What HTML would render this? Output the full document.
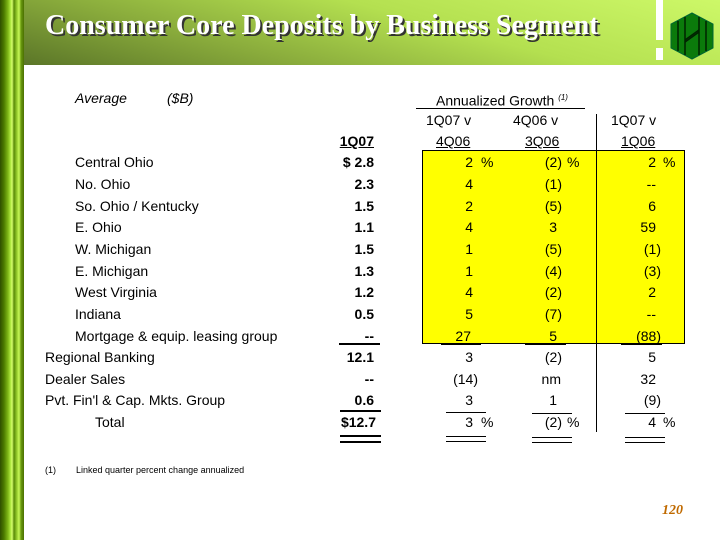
<!DOCTYPE html>
<html><head><meta charset="utf-8"><style>
body{margin:0;width:720px;height:540px;position:relative;overflow:hidden;background:#fff;font-family:"Liberation Sans",Arial,sans-serif;}
.l{position:absolute;font-size:14px;line-height:16px;white-space:nowrap;color:#000}
.r{position:absolute;font-size:14px;line-height:16px;white-space:nowrap;text-align:right;width:200px;color:#000}
.b{font-weight:bold}
.hl{position:absolute;background:#000}
</style></head><body>
<div style="position:absolute;left:0;top:0;width:24px;height:540px;background:linear-gradient(90deg,#2f4f00 0,#4c7a00 4px,#7fb818 8px,#b8f048 11px,#d8ff70 12px,#5a8a08 14px,#9ad030 17px,#c8f858 19px,#6a9a10 21px,#4a7000 24px)"></div>
<div style="position:absolute;left:24px;top:0;width:696px;height:65px;background:linear-gradient(15deg,#5b7628 0%,#8aac3c 30%,#b4e050 60%,#cdf868 100%)"></div>
<div style="position:absolute;left:45px;top:10px;font-family:'Liberation Serif',serif;font-weight:bold;font-size:28px;color:#fff;text-shadow:2px 2px 0 #333">Consumer Core Deposits by Business Segment</div>
<div style="position:absolute;left:656px;top:0;width:7px;height:40px;background:#fff"></div>
<div style="position:absolute;left:656px;top:48px;width:7px;height:12px;background:#fff"></div>
<svg style="position:absolute;left:670px;top:12px" width="46" height="48"><polygon points="22,1 43,12 43,36 22,47 1,36 1,12" fill="#0b7a0b" stroke="#063"/><g stroke="#020" stroke-width="1.5"><line x1="8" y1="9" x2="8" y2="39"/><line x1="15" y1="5" x2="15" y2="43"/><line x1="29" y1="5" x2="29" y2="43"/><line x1="36" y1="9" x2="36" y2="39"/><path d="M15 30 L29 20 M15 28 L29 18" /></g></svg>

<div class="l" style="left:75px;top:90px;font-style:italic">Average</div>
<div class="l" style="left:167px;top:90px;font-style:italic">($B)</div>
<div class="l" style="left:436px;top:90px">Annualized Growth <sup style="font-size:8px;font-style:italic">(1)</sup></div>
<div class="hl" style="left:416px;top:108px;width:169px;height:1px"></div>
<div class="l" style="left:426px;top:112px">1Q07 v</div>
<div class="l" style="left:513px;top:112px">4Q06 v</div>
<div class="l" style="left:611px;top:112px">1Q07 v</div>
<div class="r b" style="left:174px;top:133px;text-decoration:underline">1Q07</div>
<div class="l" style="left:436px;top:133px;text-decoration:underline">4Q06</div>
<div class="l" style="left:525px;top:133px;text-decoration:underline">3Q06</div>
<div class="l" style="left:621px;top:133px;text-decoration:underline">1Q06</div>

<div style="position:absolute;left:422px;top:150px;width:263px;height:194px;background:#ff0;border:1px solid #000;box-sizing:border-box"></div>
<div class="hl" style="left:596px;top:114px;width:1px;height:318px"></div>

<div class="l" style="left:75px;top:154px">Central Ohio</div>
<div class="l" style="left:75px;top:176px">No. Ohio</div>
<div class="l" style="left:75px;top:198px">So. Ohio / Kentucky</div>
<div class="l" style="left:75px;top:219px">E. Ohio</div>
<div class="l" style="left:75px;top:241px">W. Michigan</div>
<div class="l" style="left:75px;top:263px">E. Michigan</div>
<div class="l" style="left:75px;top:284px">West Virginia</div>
<div class="l" style="left:75px;top:306px">Indiana</div>
<div class="l" style="left:75px;top:328px">Mortgage &amp; equip. leasing group</div>
<div class="l" style="left:45px;top:349px">Regional Banking</div>
<div class="l" style="left:45px;top:371px">Dealer Sales</div>
<div class="l" style="left:45px;top:392px">Pvt. Fin'l &amp; Cap. Mkts. Group</div>
<div class="l" style="left:95px;top:414px">Total</div>

<div class="r b" style="left:174px;top:154px">$ 2.8</div>
<div class="r b" style="left:174px;top:176px">2.3</div>
<div class="r b" style="left:174px;top:198px">1.5</div>
<div class="r b" style="left:174px;top:219px">1.1</div>
<div class="r b" style="left:174px;top:241px">1.5</div>
<div class="r b" style="left:174px;top:263px">1.3</div>
<div class="r b" style="left:174px;top:284px">1.2</div>
<div class="r b" style="left:174px;top:306px">0.5</div>
<div class="r b" style="left:174px;top:328px">--</div>
<div class="r b" style="left:174px;top:349px">12.1</div>
<div class="r b" style="left:174px;top:371px">--</div>
<div class="r b" style="left:174px;top:392px">0.6</div>
<div class="r b" style="left:176px;top:414px">$12.7</div>

<div class="r" style="left:273px;top:154px">2</div><div class="l" style="left:481px;top:154px">%</div>
<div class="r" style="left:273px;top:176px">4</div>
<div class="r" style="left:273px;top:198px">2</div>
<div class="r" style="left:273px;top:219px">4</div>
<div class="r" style="left:273px;top:241px">1</div>
<div class="r" style="left:273px;top:263px">1</div>
<div class="r" style="left:273px;top:284px">4</div>
<div class="r" style="left:273px;top:306px">5</div>
<div class="r" style="left:271px;top:328px">27</div>
<div class="r" style="left:273px;top:349px">3</div>
<div class="r" style="left:278px;top:371px">(14)</div>
<div class="r" style="left:273px;top:392px">3</div>
<div class="r" style="left:273px;top:414px">3</div><div class="l" style="left:481px;top:414px">%</div>

<div class="r" style="left:362px;top:154px">(2)</div><div class="l" style="left:567px;top:154px">%</div>
<div class="r" style="left:362px;top:176px">(1)</div>
<div class="r" style="left:362px;top:198px">(5)</div>
<div class="r" style="left:357px;top:219px">3</div>
<div class="r" style="left:362px;top:241px">(5)</div>
<div class="r" style="left:362px;top:263px">(4)</div>
<div class="r" style="left:362px;top:284px">(2)</div>
<div class="r" style="left:362px;top:306px">(7)</div>
<div class="r" style="left:357px;top:328px">5</div>
<div class="r" style="left:362px;top:349px">(2)</div>
<div class="r" style="left:361px;top:371px">nm</div>
<div class="r" style="left:357px;top:392px">1</div>
<div class="r" style="left:362px;top:414px">(2)</div><div class="l" style="left:567px;top:414px">%</div>

<div class="r" style="left:456px;top:154px">2</div><div class="l" style="left:663px;top:154px">%</div>
<div class="r" style="left:456px;top:176px">--</div>
<div class="r" style="left:456px;top:198px">6</div>
<div class="r" style="left:456px;top:219px">59</div>
<div class="r" style="left:461px;top:241px">(1)</div>
<div class="r" style="left:461px;top:263px">(3)</div>
<div class="r" style="left:456px;top:284px">2</div>
<div class="r" style="left:456px;top:306px">--</div>
<div class="r" style="left:461px;top:328px">(88)</div>
<div class="r" style="left:456px;top:349px">5</div>
<div class="r" style="left:456px;top:371px">32</div>
<div class="r" style="left:461px;top:392px">(9)</div>
<div class="r" style="left:456px;top:414px">4</div><div class="l" style="left:663px;top:414px">%</div>

<div class="hl" style="left:339px;top:343px;width:41px;height:2px"></div>
<div class="hl" style="left:441px;top:344px;width:40px;height:1px"></div>
<div class="hl" style="left:525px;top:344px;width:41px;height:1px"></div>
<div class="hl" style="left:621px;top:344px;width:41px;height:1px"></div>
<div class="hl" style="left:340px;top:410px;width:41px;height:2px"></div>
<div class="hl" style="left:446px;top:412px;width:40px;height:1px"></div>
<div class="hl" style="left:532px;top:413px;width:40px;height:1px"></div>
<div class="hl" style="left:625px;top:413px;width:40px;height:1px"></div>
<div class="hl" style="left:340px;top:435px;width:41px;height:2px"></div>
<div class="hl" style="left:340px;top:441px;width:41px;height:2px"></div>
<div class="hl" style="left:446px;top:436px;width:40px;height:1px"></div>
<div class="hl" style="left:446px;top:441px;width:40px;height:1px"></div>
<div class="hl" style="left:532px;top:437px;width:40px;height:1px"></div>
<div class="hl" style="left:532px;top:442px;width:40px;height:1px"></div>
<div class="hl" style="left:625px;top:437px;width:40px;height:1px"></div>
<div class="hl" style="left:625px;top:442px;width:40px;height:1px"></div>

<div class="l" style="left:45px;top:462px;font-size:9px">(1)</div>
<div class="l" style="left:76px;top:462px;font-size:9px">Linked quarter percent change annualized</div>
<div class="l" style="left:662px;top:503px;font-family:'Liberation Serif',serif;font-style:italic;font-weight:bold;font-size:14px;color:#c06a00">120</div>
</body></html>
